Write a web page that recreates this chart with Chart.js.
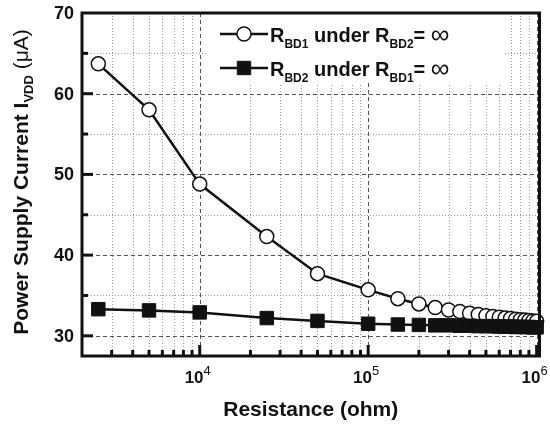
<!DOCTYPE html>
<html>
<head>
<meta charset="utf-8">
<script src="https://cdn.jsdelivr.net/npm/chart.js@4.4.0/dist/chart.umd.min.js"></script>
<style>
  html, body { margin: 0; padding: 0; background: #fff; }
</style>
</head>
<body>
<canvas id="chart" width="550" height="432"></canvas>
<script>
// resistance sweep (ohm)
const resistance = [2500, 5000, 10000, 25000, 50000, 100000, 150000, 200000, 250000, 300000,
  350000, 400000, 450000, 500000, 550000, 600000, 650000, 700000, 750000, 800000,
  850000, 900000, 950000, 1000000];
// supply current (uA)
const rbd1Current = [63.7, 58.0, 48.8, 42.3, 37.7, 35.7, 34.6, 33.95, 33.5, 33.2,
  33.0, 32.8, 32.65, 32.5, 32.4, 32.3, 32.2, 32.15, 32.05, 32.0,
  31.95, 31.9, 31.85, 31.8];
const rbd2Current = [33.3, 33.15, 32.9, 32.2, 31.85, 31.5, 31.4, 31.35, 31.3, 31.3,
  31.25, 31.25, 31.2, 31.2, 31.2, 31.15, 31.15, 31.15, 31.1, 31.1,
  31.1, 31.1, 31.05, 31.05];
const yTicks = [30, 40, 50, 60, 70];
const yMinorTicks = [35, 45, 55, 65];
const xDecades = [1e4, 1e5, 1e6];
const xDecadeExp = ['4', '5', '6'];

const FONT = '"Liberation Sans", Arial, sans-serif';

// draws a run of text pieces, each may be sub/sup, returns the width
function drawParts(ctx, parts, x, y, measureOnly) {
  let w = 0;
  parts.forEach(function (p) {
    ctx.font = (p.weight || 'bold') + ' ' + p.size + 'px ' + FONT;
    if (!measureOnly) ctx.fillText(p.t, x + w, y + (p.dy || 0));
    w += ctx.measureText(p.t).width;
  });
  return w;
}

const decor = {
  id: 'decor',
  beforeDatasetsDraw(chart) {
    const ctx = chart.ctx, a = chart.chartArea;
    const xs = chart.scales.x, ys = chart.scales.y;
    ctx.save();
    ctx.lineWidth = 1;
    // minor x grid
    ctx.strokeStyle = '#9a9a9a';
    ctx.setLineDash([1, 2]);
    for (let d = 1000; d <= 1e6; d *= 10) {
      for (let m = 2; m <= 9; m++) {
        const v = d * m;
        if (v <= xs.min || v >= xs.max) continue;
        const px = Math.round(xs.getPixelForValue(v)) + 0.5;
        ctx.beginPath(); ctx.moveTo(px, a.top); ctx.lineTo(px, a.bottom); ctx.stroke();
      }
    }
    yMinorTicks.forEach(function (v) {
      const py = Math.round(ys.getPixelForValue(v)) + 0.5;
      ctx.beginPath(); ctx.moveTo(a.left, py); ctx.lineTo(a.right, py); ctx.stroke();
    });
    // major grid
    ctx.strokeStyle = '#555';
    ctx.setLineDash([4, 3]);
    xDecades.forEach(function (v) {
      const px = Math.round(xs.getPixelForValue(v)) + 0.5;
      ctx.beginPath(); ctx.moveTo(px, a.top); ctx.lineTo(px, a.bottom); ctx.stroke();
    });
    yTicks.forEach(function (v) {
      if (v >= ys.max) return;
      const py = Math.round(ys.getPixelForValue(v)) + 0.5;
      ctx.beginPath(); ctx.moveTo(a.left, py); ctx.lineTo(a.right, py); ctx.stroke();
    });
    ctx.setLineDash([]);
    // legend background hides grid
    ctx.fillStyle = '#fff';
    ctx.fillRect(208, a.top, 297, 70);
    ctx.restore();
  },
  afterDraw(chart) {
    const ctx = chart.ctx, a = chart.chartArea;
    const xs = chart.scales.x, ys = chart.scales.y;
    ctx.save();
    ctx.fillStyle = '#111';
    ctx.strokeStyle = '#111';
    // inner ticks
    ctx.lineWidth = 3;
    for (let d = 1000; d <= 1e6; d *= 10) {
      for (let m = 1; m <= 9; m++) {
        const v = d * m;
        if (v <= xs.min || v >= xs.max) continue;
        const px = xs.getPixelForValue(v);
        const len = m === 1 ? 11 : 6;
        ctx.beginPath(); ctx.moveTo(px, a.bottom); ctx.lineTo(px, a.bottom - len); ctx.stroke();
      }
    }
    yTicks.concat(yMinorTicks).forEach(function (v) {
      if (v >= ys.max) return;
      const py = ys.getPixelForValue(v);
      const len = yTicks.indexOf(v) >= 0 ? 11 : 6;
      ctx.beginPath(); ctx.moveTo(a.left, py); ctx.lineTo(a.left + len, py); ctx.stroke();
    });
    // frame
    ctx.lineWidth = 3;
    ctx.strokeRect(a.left, a.top, a.right - a.left, a.bottom - a.top);

    // y tick labels
    ctx.font = 'bold 18px ' + FONT;
    ctx.textAlign = 'right';
    ctx.textBaseline = 'middle';
    yTicks.forEach(function (v) {
      ctx.fillText(String(v), a.left - 8, ys.getPixelForValue(v) + 1);
    });
    // x tick labels 10^n
    ctx.textAlign = 'left';
    ctx.textBaseline = 'alphabetic';
    xDecades.forEach(function (v, i) {
      const parts = [{ t: '10', size: 17 }, { t: xDecadeExp[i], size: 13, dy: -8, weight: 'normal' }];
      const w = drawParts(ctx, parts, 0, 0, true);
      drawParts(ctx, parts, xs.getPixelForValue(v) - w / 2 - 2, 383);
    });
    // x title
    ctx.font = 'bold 21px ' + FONT;
    ctx.textAlign = 'center';
    ctx.fillText('Resistance (ohm)', (a.left + a.right) / 2, 416);
    // y title
    ctx.textAlign = 'left';
    const yParts = [
      { t: 'Power Supply Current I', size: 21 },
      { t: 'VDD', size: 13, dy: 5 },
      { t: ' (\u03bcA)', size: 21, weight: 'normal' }
    ];
    const yw = drawParts(ctx, yParts, 0, 0, true);
    ctx.save();
    ctx.translate(28, 182);
    ctx.rotate(-Math.PI / 2);
    drawParts(ctx, yParts, -yw / 2, 0);
    ctx.restore();

    // legend
    const rows = [
      { y: 34, ds: 0, parts: [{ t: 'R', size: 20 }, { t: 'BD1', size: 12, dy: 6 }, { t: ' under R', size: 20 }, { t: 'BD2', size: 12, dy: 6 }, { t: '= ', size: 20 }, { t: '\u221e', size: 26, weight: 'normal', dy: 1 }] },
      { y: 68, ds: 1, parts: [{ t: 'R', size: 20 }, { t: 'BD2', size: 12, dy: 6 }, { t: ' under R', size: 20 }, { t: 'BD1', size: 12, dy: 6 }, { t: '= ', size: 20 }, { t: '\u221e', size: 26, weight: 'normal', dy: 1 }] }
    ];
    rows.forEach(function (r) {
      const ds = chart.data.datasets[r.ds];
      ctx.lineWidth = 2.5;
      ctx.strokeStyle = '#111';
      ctx.beginPath(); ctx.moveTo(220, r.y); ctx.lineTo(268, r.y); ctx.stroke();
      ctx.fillStyle = ds.pointBackgroundColor;
      ctx.lineWidth = ds.pointBorderWidth;
      Chart.helpers.drawPoint(ctx, { pointStyle: ds.pointStyle, radius: ds.pointRadius, borderWidth: ds.pointBorderWidth }, 244, r.y);
      ctx.fillStyle = '#111';
      drawParts(ctx, r.parts, 270, r.y + 8);
    });
    ctx.restore();
  }
};

const ctx = document.getElementById('chart').getContext('2d');
const chart = new Chart(ctx, {
  type: 'line',
  data: {
    datasets: [
      {
        label: 'RBD1 under RBD2 = inf',
        data: resistance.map(function (r, i) { return { x: r, y: rbd1Current[i] }; }),
        borderColor: '#111',
        borderWidth: 2.5,
        pointStyle: 'circle',
        pointRadius: 7,
        pointBackgroundColor: '#fff',
        pointBorderColor: '#111',
        pointBorderWidth: 1.5,
        order: 1
      },
      {
        label: 'RBD2 under RBD1 = inf',
        data: resistance.map(function (r, i) { return { x: r, y: rbd2Current[i] }; }),
        borderColor: '#111',
        borderWidth: 2.5,
        pointStyle: 'rect',
        pointRadius: 9.5,
        pointBackgroundColor: '#111',
        pointBorderColor: '#111',
        pointBorderWidth: 1,
        order: 0
      }
    ]
  },
  options: {
    responsive: false,
    animation: false,
    devicePixelRatio: 1,
    clip: false,
    layout: { padding: { left: 82, right: 9, top: 13, bottom: 76 } },
    plugins: { legend: { display: false }, tooltip: { enabled: false } },
    scales: {
      x: { type: 'logarithmic', min: 2000, max: 1.04e6, display: false },
      y: { type: 'linear', min: 27.5, max: 70, display: false }
    }
  },
  plugins: [decor]
});
</script>
</body>
</html>
